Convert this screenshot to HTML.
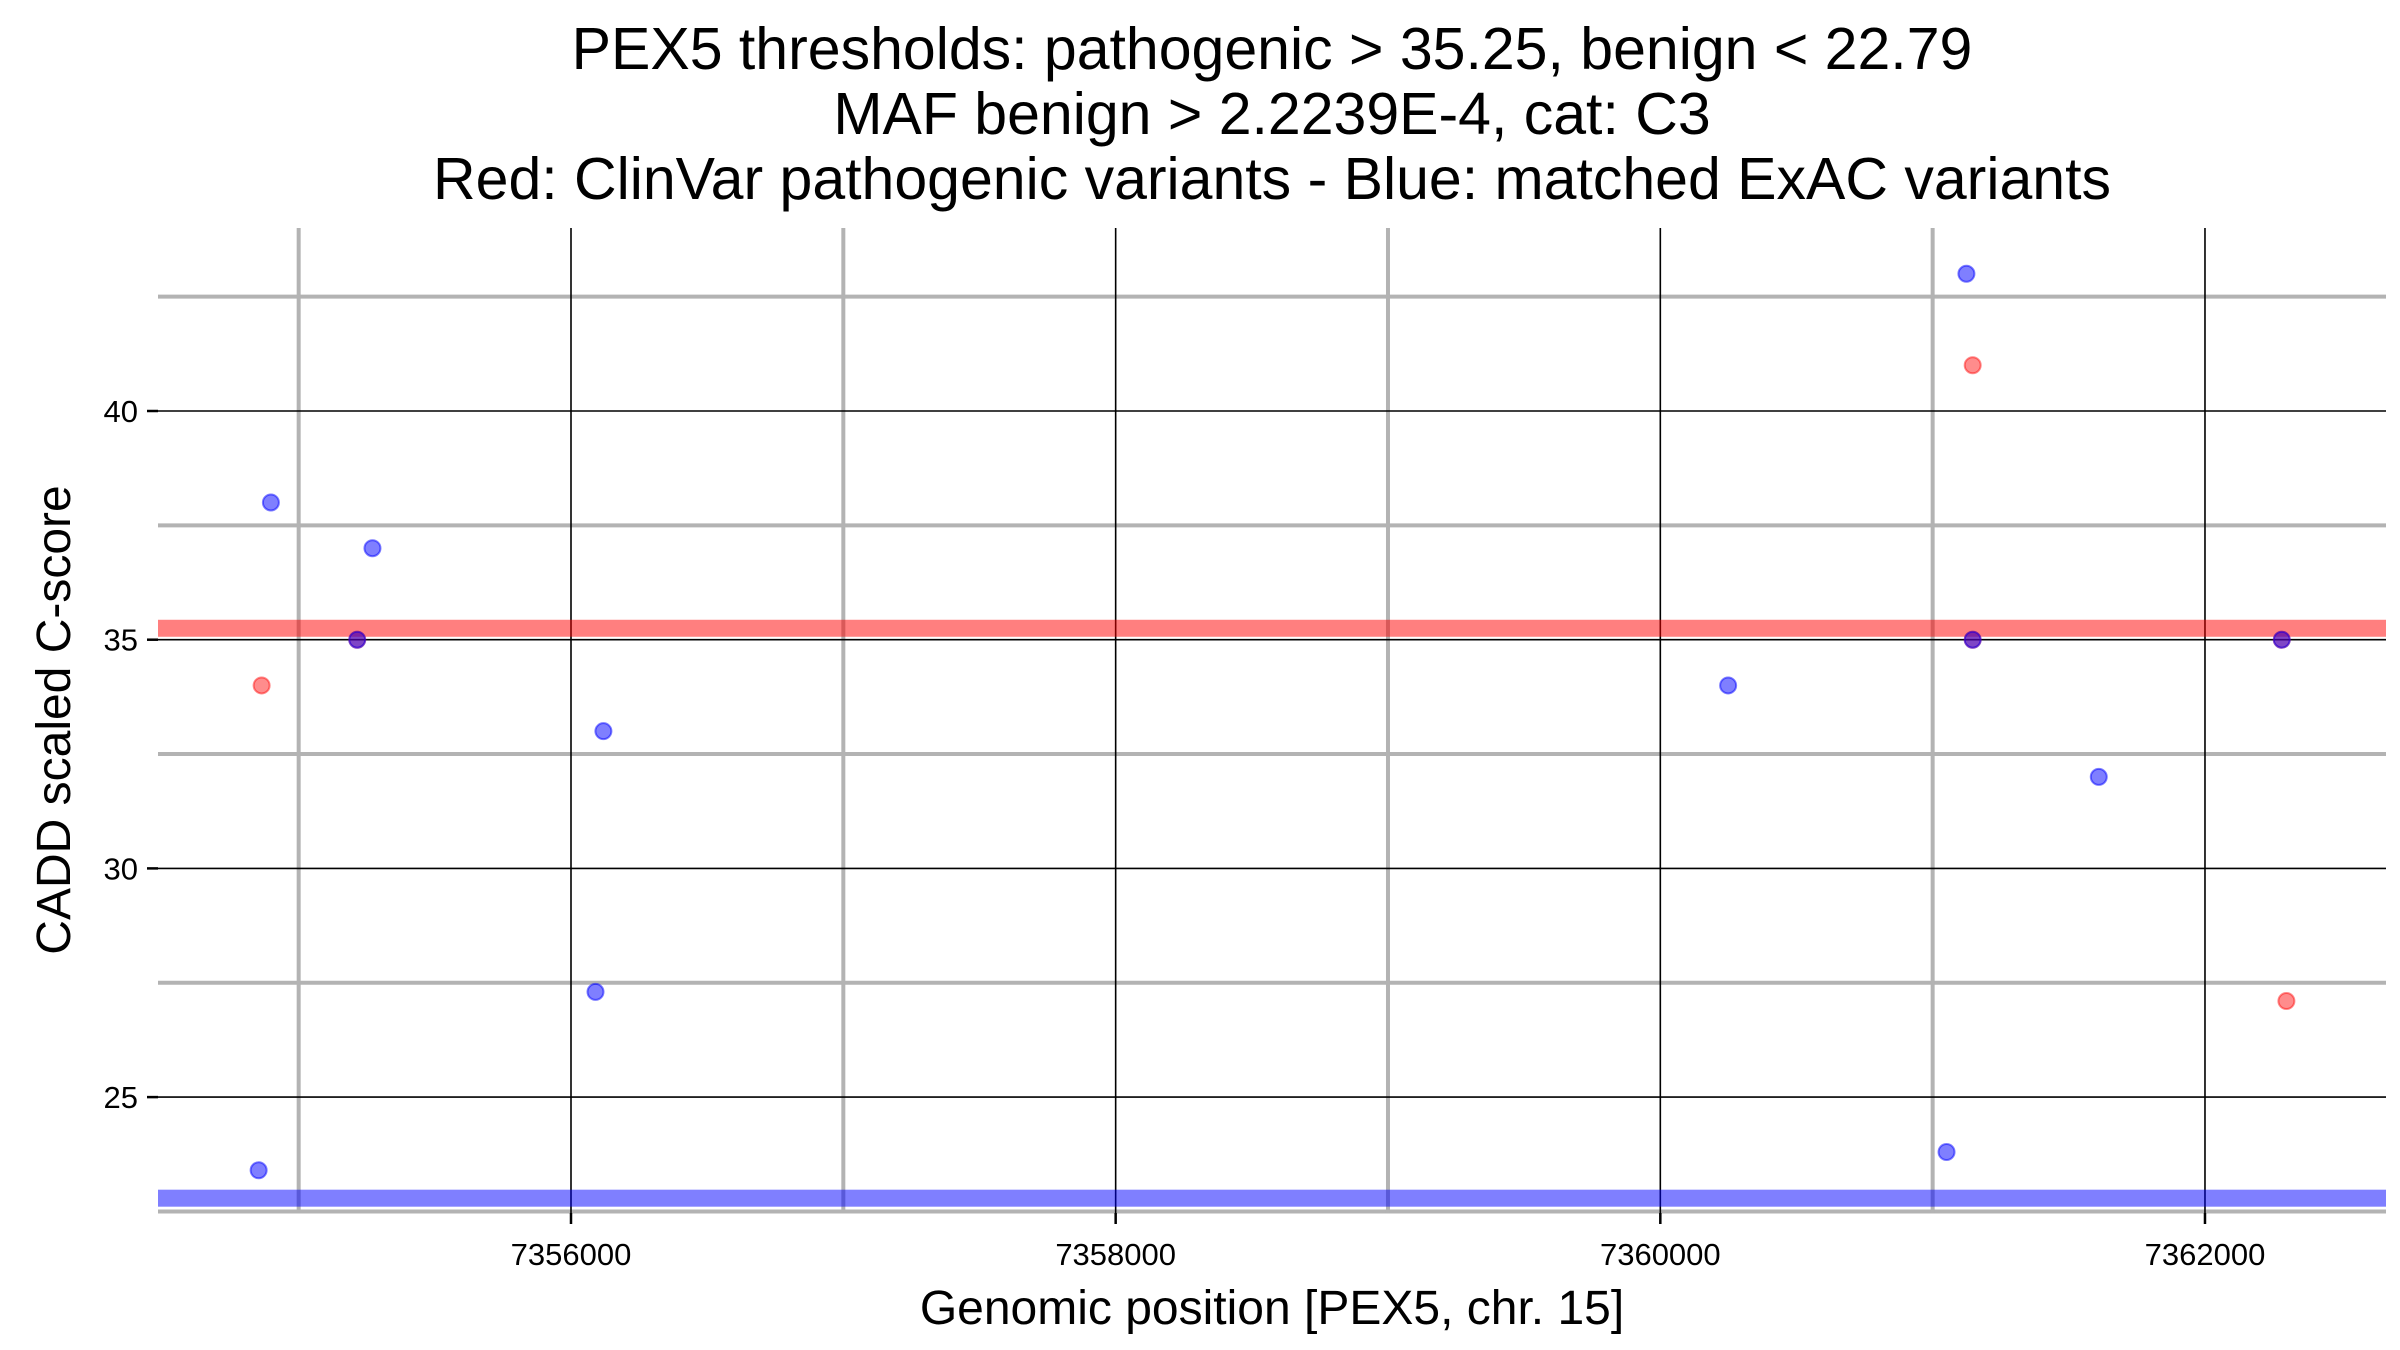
<!DOCTYPE html>
<html><head><meta charset="utf-8"><style>
body{margin:0;background:#fff}
svg{display:block;font-family:"Liberation Sans",sans-serif}
</style></head><body>
<svg id="chart" width="2400" height="1350" xmlns="http://www.w3.org/2000/svg">
<g id="title" font-size="59" text-anchor="middle" fill="#000">
<text x="1272" y="69">PEX5 thresholds: pathogenic &gt; 35.25, benign &lt; 22.79</text>
<text x="1272" y="134">MAF benign &gt; 2.2239E-4, cat: C3</text>
<text x="1272" y="199">Red: ClinVar pathogenic variants - Blue: matched ExAC variants</text>
</g>
<g id="grid"></g>
<g id="bands"></g>
<g id="points"></g>
<g id="axes"></g>
<text x="1272" y="1324" font-size="48" text-anchor="middle">Genomic position [PEX5, chr. 15]</text>
<text transform="translate(70,720) rotate(-90)" font-size="48" text-anchor="middle">CADD scaled C-score</text>
</svg>
<script>
const xTicks=[7356000,7358000,7360000,7362000];
const xMinor=[7355000,7357000,7359000,7361000];
const yTicks=[25,30,35,40];
const yMinor=[22.5,27.5,32.5,37.5,42.5];
const pathoThreshold=35.25;
const benignThreshold=22.79;
const blueX=[7354898,7355271,7355215,7356119,7356090,7354853,7361124,7361147,7360249,7361610,7362282,7361051];
const blueY=[38,37,35,33,27.3,23.4,43,35,34,32,35,23.8];
const redX=[7354864,7361147,7362299,7355215,7361147,7362282];
const redY=[34,41,27.1,35,35,35];

const L=158,R=2386,T=228,B=1213;
function xs(v){return 571+(v-7356000)*0.27233;}
function ys(v){return 411+(40-v)*45.74;}
const NS='http://www.w3.org/2000/svg';
function mk(tag,attrs,parent){const e=document.createElementNS(NS,tag);for(const k in attrs)e.setAttribute(k,attrs[k]);parent.appendChild(e);return e;}
const grid=document.getElementById('grid'),bands=document.getElementById('bands'),pts=document.getElementById('points'),axes=document.getElementById('axes');
yMinor.forEach(v=>{const e=mk('line',{x1:L,x2:R,y1:ys(v),y2:ys(v),stroke:'#b3b3b3','stroke-width':4},grid);

});
xMinor.forEach(v=>{const e=mk('line',{x1:xs(v),x2:xs(v),y1:T,y2:B,stroke:'#b3b3b3','stroke-width':4},grid);

});
yTicks.forEach(v=>{const e=mk('line',{x1:L,x2:R,y1:ys(v),y2:ys(v),stroke:'#000','stroke-width':1.6},grid);


const t=mk('line',{x1:L-11,x2:L,y1:ys(v),y2:ys(v),stroke:'#000','stroke-width':2.5},axes);


const l=mk('text',{x:L-20,y:ys(v)+11,'font-size':31,'text-anchor':'end'},axes);l.textContent=v;

});
xTicks.forEach(v=>{const e=mk('line',{x1:xs(v),x2:xs(v),y1:T,y2:B,stroke:'#000','stroke-width':1.6},grid);


const t=mk('line',{x1:xs(v),x2:xs(v),y1:B,y2:B+11,stroke:'#000','stroke-width':2.5},axes);


const l=mk('text',{x:xs(v),y:B+52,'font-size':31,'text-anchor':'middle'},axes);l.textContent=v;

});
const pb=mk('rect',{x:L,width:R-L,y:ys(pathoThreshold)-8.5,height:17,fill:'rgba(255,0,0,0.5)'},bands);


const bb=mk('rect',{x:L,width:R-L,y:ys(benignThreshold)-8.5,height:17,fill:'rgba(0,0,255,0.5)'},bands);


redX.forEach((x,i)=>{const c=mk('circle',{cx:xs(x),cy:ys(redY[i]),r:8,fill:'rgba(255,0,0,0.45)',stroke:'rgba(255,0,0,0.45)','stroke-width':2},pts);

});
blueX.forEach((x,i)=>{const c=mk('circle',{cx:xs(x),cy:ys(blueY[i]),r:8,fill:'rgba(0,0,255,0.5)',stroke:'rgba(0,0,255,0.5)','stroke-width':2},pts);

});
</script>
</body></html>
